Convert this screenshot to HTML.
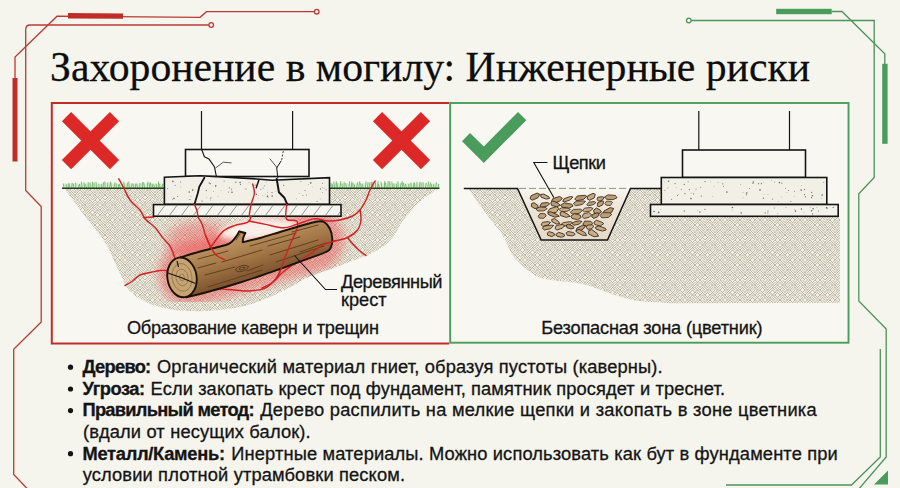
<!DOCTYPE html>
<html lang="ru"><head><meta charset="utf-8"><title>Захоронение в могилу: Инженерные риски</title>
<style>
html,body{margin:0;padding:0;background:#f5f5ed;}
body{width:900px;height:488px;overflow:hidden;}
svg{display:block}
.t{font-family:"Liberation Serif",serif;fill:#0d0d0d;stroke:#0d0d0d;stroke-width:0.25px}
.s{font-family:"Liberation Sans",sans-serif;fill:#141414;stroke:#141414;stroke-width:0.3px}
.b{font-weight:bold}
</style></head><body>
<svg width="900" height="488" viewBox="0 0 900 488">
<defs>
<pattern id="soil" width="40" height="40" patternUnits="userSpaceOnUse">
<rect width="40" height="40" fill="#f1eee3"/>
<path d="M0,0L2.5,2.5M2.5,0L5,2.5M5,2.5L7.5,0M7.5,2.5L10,0M10,0L12.5,2.5M12.5,2.5L15,0M15,0L17.5,2.5M17.5,2.5L20,0M20,0L22.5,2.5M22.5,0L25,2.5M25,2.5L27.5,0M27.5,2.5L30,0M30,0L32.5,2.5M32.5,0L35,2.5M35,2.5L37.5,0M37.5,0L40,2.5M0,2.5L2.5,5M2.5,2.5L5,5M5,5L7.5,2.5M7.5,5L10,2.5M10,2.5L12.5,5M12.5,5L15,2.5M15,5L17.5,2.5M17.5,5L20,2.5M20,2.5L22.5,5M22.5,5L25,2.5M25,5L27.5,2.5M27.5,5L30,2.5M30,2.5L32.5,5M32.5,2.5L35,5M35,5L37.5,2.5M37.5,5L40,2.5M0,7.5L2.5,5M2.5,5L5,7.5M5,5L7.5,7.5M7.5,7.5L10,5M10,7.5L12.5,5M12.5,7.5L15,5M15,7.5L17.5,5M17.5,5L20,7.5M20,7.5L22.5,5M22.5,5L25,7.5M25,5L27.5,7.5M27.5,7.5L30,5M30,7.5L32.5,5M32.5,5L35,7.5M35,5L37.5,7.5M37.5,7.5L40,5M0,10L2.5,7.5M2.5,7.5L5,10M5,7.5L7.5,10M7.5,10L10,7.5M10,10L12.5,7.5M12.5,7.5L15,10M15,7.5L17.5,10M17.5,7.5L20,10M20,10L22.5,7.5M22.5,7.5L25,10M25,7.5L27.5,10M27.5,10L30,7.5M30,10L32.5,7.5M32.5,10L35,7.5M35,7.5L37.5,10M37.5,10L40,7.5M0,10L2.5,12.5M2.5,12.5L5,10M5,12.5L7.5,10M7.5,12.5L10,10M10,12.5L12.5,10M12.5,10L15,12.5M15,12.5L17.5,10M17.5,10L20,12.5M20,10L22.5,12.5M22.5,10L25,12.5M25,12.5L27.5,10M27.5,10L30,12.5M30,10L32.5,12.5M32.5,12.5L35,10M35,12.5L37.5,10M37.5,12.5L40,10M0,12.5L2.5,15M2.5,12.5L5,15M5,15L7.5,12.5M7.5,15L10,12.5M10,12.5L12.5,15M12.5,15L15,12.5M15,15L17.5,12.5M17.5,12.5L20,15M20,15L22.5,12.5M22.5,12.5L25,15M25,15L27.5,12.5M27.5,12.5L30,15M30,15L32.5,12.5M32.5,12.5L35,15M35,15L37.5,12.5M37.5,15L40,12.5M0,17.5L2.5,15M2.5,15L5,17.5M5,15L7.5,17.5M7.5,17.5L10,15M10,17.5L12.5,15M12.5,15L15,17.5M15,15L17.5,17.5M17.5,17.5L20,15M20,17.5L22.5,15M22.5,15L25,17.5M25,15L27.5,17.5M27.5,17.5L30,15M30,17.5L32.5,15M32.5,15L35,17.5M35,15L37.5,17.5M37.5,17.5L40,15M0,20L2.5,17.5M2.5,20L5,17.5M5,17.5L7.5,20M7.5,20L10,17.5M10,17.5L12.5,20M12.5,17.5L15,20M15,17.5L17.5,20M17.5,17.5L20,20M20,20L22.5,17.5M22.5,17.5L25,20M25,17.5L27.5,20M27.5,20L30,17.5M30,20L32.5,17.5M32.5,17.5L35,20M35,20L37.5,17.5M37.5,17.5L40,20M0,20L2.5,22.5M2.5,20L5,22.5M5,22.5L7.5,20M7.5,22.5L10,20M10,20L12.5,22.5M12.5,20L15,22.5M15,22.5L17.5,20M17.5,22.5L20,20M20,20L22.5,22.5M22.5,20L25,22.5M25,22.5L27.5,20M27.5,22.5L30,20M30,20L32.5,22.5M32.5,22.5L35,20M35,22.5L37.5,20M37.5,22.5L40,20M0,22.5L2.5,25M2.5,22.5L5,25M5,25L7.5,22.5M7.5,25L10,22.5M10,25L12.5,22.5M12.5,22.5L15,25M15,25L17.5,22.5M17.5,22.5L20,25M20,22.5L22.5,25M22.5,22.5L25,25M25,25L27.5,22.5M27.5,25L30,22.5M30,22.5L32.5,25M32.5,25L35,22.5M35,25L37.5,22.5M37.5,25L40,22.5M0,27.5L2.5,25M2.5,25L5,27.5M5,25L7.5,27.5M7.5,25L10,27.5M10,27.5L12.5,25M12.5,27.5L15,25M15,25L17.5,27.5M17.5,27.5L20,25M20,25L22.5,27.5M22.5,25L25,27.5M25,25L27.5,27.5M27.5,27.5L30,25M30,27.5L32.5,25M32.5,25L35,27.5M35,27.5L37.5,25M37.5,27.5L40,25M0,30L2.5,27.5M2.5,27.5L5,30M5,27.5L7.5,30M7.5,30L10,27.5M10,30L12.5,27.5M12.5,27.5L15,30M15,27.5L17.5,30M17.5,27.5L20,30M20,27.5L22.5,30M22.5,27.5L25,30M25,27.5L27.5,30M27.5,30L30,27.5M30,30L32.5,27.5M32.5,27.5L35,30M35,27.5L37.5,30M37.5,30L40,27.5M0,30L2.5,32.5M2.5,30L5,32.5M5,32.5L7.5,30M7.5,32.5L10,30M10,30L12.5,32.5M12.5,30L15,32.5M15,32.5L17.5,30M17.5,30L20,32.5M20,30L22.5,32.5M22.5,30L25,32.5M25,32.5L27.5,30M27.5,30L30,32.5M30,30L32.5,32.5M32.5,30L35,32.5M35,32.5L37.5,30M37.5,32.5L40,30M0,32.5L2.5,35M2.5,32.5L5,35M5,32.5L7.5,35M7.5,35L10,32.5M10,35L12.5,32.5M12.5,32.5L15,35M15,35L17.5,32.5M17.5,35L20,32.5M20,32.5L22.5,35M22.5,32.5L25,35M25,35L27.5,32.5M27.5,35L30,32.5M30,32.5L32.5,35M32.5,32.5L35,35M35,35L37.5,32.5M37.5,35L40,32.5M0,37.5L2.5,35M2.5,37.5L5,35M5,35L7.5,37.5M7.5,37.5L10,35M10,35L12.5,37.5M12.5,35L15,37.5M15,35L17.5,37.5M17.5,37.5L20,35M20,37.5L22.5,35M22.5,37.5L25,35M25,35L27.5,37.5M27.5,37.5L30,35M30,35L32.5,37.5M32.5,35L35,37.5M35,35L37.5,37.5M37.5,37.5L40,35M0,40L2.5,37.5M2.5,37.5L5,40M5,37.5L7.5,40M7.5,37.5L10,40M10,37.5L12.5,40M12.5,40L15,37.5M15,40L17.5,37.5M17.5,37.5L20,40M20,40L22.5,37.5M22.5,37.5L25,40M25,40L27.5,37.5M27.5,40L30,37.5M30,40L32.5,37.5M32.5,37.5L35,40M35,37.5L37.5,40M37.5,40L40,37.5" stroke="#b1ac99" stroke-width="0.8" fill="none" stroke-linecap="square"/>
</pattern>
<pattern id="hatch" width="12" height="12" patternUnits="userSpaceOnUse">
<path d="M1,12L10,0M13,12L22,0M-11,12L-2,0" stroke="#6a6a66" stroke-width="0.7" fill="none"/>
</pattern>
<radialGradient id="glow" cx="0.5" cy="0.5" r="0.5">
<stop offset="0" stop-color="#f04848" stop-opacity="0.75"/>
<stop offset="0.55" stop-color="#f05050" stop-opacity="0.5"/>
<stop offset="1" stop-color="#f06060" stop-opacity="0"/>
</radialGradient>
<radialGradient id="wglow" cx="0.5" cy="0.5" r="0.5">
<stop offset="0" stop-color="#fff" stop-opacity="0.9"/>
<stop offset="1" stop-color="#fff" stop-opacity="0"/>
</radialGradient>
<filter id="blur7" x="-40%" y="-80%" width="180%" height="260%"><feGaussianBlur stdDeviation="5"/></filter>
<filter id="blur3" x="-30%" y="-80%" width="160%" height="260%"><feGaussianBlur stdDeviation="3"/></filter>
<linearGradient id="logg" gradientUnits="userSpaceOnUse" x1="250" y1="238" x2="261" y2="276">
<stop offset="0" stop-color="#b88f5c"/><stop offset="0.45" stop-color="#a27646"/><stop offset="1" stop-color="#7d532d"/></linearGradient>
</defs>
<rect width="900" height="488" fill="#f5f5ed"/>

<g fill="none" stroke="#b93a34" stroke-width="1.3">
<path d="M208.8,25H30Q25.7,25 25.7,29.5V190.5L41.2,206.5V322L13.7,349.3V474.5L28.5,490"/>
<circle cx="211.2" cy="25" r="2.3" fill="#f5f5ed"/>
<path d="M15,78V57L57,16.2L200,17.3L206.5,11.7H314.3"/>
<circle cx="316.7" cy="11.7" r="2.3" fill="#f5f5ed"/>
</g>
<rect x="68" y="13.3" width="55" height="5.3" fill="#c02d29" transform="rotate(0.4 95 16)"/>
<rect x="12.5" y="78" width="5" height="83.5" fill="#c02d29"/>
<g fill="none" stroke="#4c925b" stroke-width="1.3">
<path d="M691.2,20.5H874.2V177.5L858.8,193.8V301L886.2,329V457L858,490"/>
<circle cx="688.8" cy="20.5" r="2.3" fill="#f5f5ed"/>
<path d="M831.7,11.5H842L884.8,53.8V64"/>
<path d="M880.3,349V457L851.5,485H726"/>
</g>
<rect x="776.2" y="8.8" width="55.5" height="5.4" fill="#4a9c5c"/>
<rect x="882.2" y="63.8" width="5.4" height="80" fill="#4a9c5c"/>
<path d="M874,484.5L888,470.5V484.5Z" fill="#4a9c5c"/>
<text class="t" transform="translate(0 80.8) scale(1 1.03)" x="50" y="0" font-size="41.7" textLength="760" lengthAdjust="spacing">Захоронение в могилу: Инженерные риски</text>
<rect x="51.8" y="103" width="796.7" height="240" fill="#f8f7f1"/>
<path d="M449.2,103H51.8V343.4H449.2" fill="none" stroke="#c02d29" stroke-width="2"/>
<rect x="450.2" y="103" width="398.3" height="239.7" fill="none" stroke="#4a9c5c" stroke-width="1.9"/>
<path d="M64.0,188.0C67.3,192.5 77.2,205.9 84.0,215.0C90.8,224.1 99.7,234.2 105.0,242.5C110.3,250.8 112.8,258.4 116.0,265.0C119.2,271.6 121.2,277.2 124.0,282.0C126.8,286.8 128.2,290.2 132.5,293.8C136.8,297.4 142.9,301.1 150.0,303.8C157.1,306.5 165.8,308.8 175.0,310.0C184.2,311.2 194.6,311.4 205.0,311.0C215.4,310.6 227.9,309.3 237.5,307.5C247.1,305.7 254.2,303.1 262.5,300.0C270.8,296.9 280.0,292.6 287.5,288.8C295.0,285.1 299.6,281.1 307.5,277.5C315.4,273.9 323.9,271.8 335.0,267.5C346.1,263.2 364.5,256.9 374.0,252.0C383.5,247.1 386.8,243.7 392.0,238.0C397.2,232.3 400.0,224.3 405.0,218.0C410.0,211.7 416.2,205.0 422.0,200.0C427.8,195.0 436.6,190.0 439.5,188.0Z" fill="url(#soil)"/>
<clipPath id="soilclip"><path d="M64.0,188.0C67.3,192.5 77.2,205.9 84.0,215.0C90.8,224.1 99.7,234.2 105.0,242.5C110.3,250.8 112.8,258.4 116.0,265.0C119.2,271.6 121.2,277.2 124.0,282.0C126.8,286.8 128.2,290.2 132.5,293.8C136.8,297.4 142.9,301.1 150.0,303.8C157.1,306.5 165.8,308.8 175.0,310.0C184.2,311.2 194.6,311.4 205.0,311.0C215.4,310.6 227.9,309.3 237.5,307.5C247.1,305.7 254.2,303.1 262.5,300.0C270.8,296.9 280.0,292.6 287.5,288.8C295.0,285.1 299.6,281.1 307.5,277.5C315.4,273.9 323.9,271.8 335.0,267.5C346.1,263.2 364.5,256.9 374.0,252.0C383.5,247.1 386.8,243.7 392.0,238.0C397.2,232.3 400.0,224.3 405.0,218.0C410.0,211.7 416.2,205.0 422.0,200.0C427.8,195.0 436.6,190.0 439.5,188.0Z"/></clipPath>
<g clip-path="url(#soilclip)">
<path d="M190,274L312,240" stroke="#f04a4a" stroke-opacity="0.46" stroke-width="64" stroke-linecap="round" fill="none" filter="url(#blur7)"/>
<ellipse cx="200" cy="240" rx="34" ry="19" fill="#f04a4a" fill-opacity="0.36" filter="url(#blur7)"/>
<ellipse cx="258" cy="229.5" rx="40" ry="10" fill="#fbf3ee" fill-opacity="0.95" filter="url(#blur3)" transform="rotate(-6 256 229)"/>
</g>
<rect x="64" y="183.3" width="100" height="4.5" fill="#cdeac6" opacity="0.7"/><rect x="331" y="183.3" width="108" height="4.5" fill="#cdeac6" opacity="0.7"/>
<path d="M64.0,188L63.2,183.4M66.3,188L66.3,184.2M68.2,188L68.2,184.3M69.9,188L68.8,183.0M71.5,188L72.3,183.0M73.3,188L73.6,183.7M75.8,188L75.6,182.5M78.4,188L79.3,184.3M80.3,188L79.4,184.0M82.2,188L81.4,181.6M84.4,188L84.1,182.3M86.5,188L85.5,184.3M88.3,188L88.2,182.1M90.2,188L90.1,182.5M92.1,188L92.6,181.7M94.0,188L94.0,182.5M96.5,188L96.0,181.9M99.0,188L98.8,184.1M101.4,188L101.4,184.0M103.0,188L103.7,182.2M105.2,188L104.8,181.4M107.5,188L107.7,182.4M109.6,188L110.6,181.6M111.6,188L110.6,182.2M113.9,188L115.1,182.2M116.4,188L116.1,183.5M118.6,188L118.5,184.4M120.4,188L119.3,184.1M122.8,188L122.2,184.0M124.8,188L123.7,181.5M126.8,188L127.7,182.6M129.2,188L128.7,181.5M131.2,188L132.2,183.2M133.8,188L133.0,184.0M135.6,188L135.6,183.7M137.8,188L136.6,183.6M139.8,188L140.0,183.2M142.4,188L142.4,182.1M144.6,188L143.5,182.1M147.1,188L148.0,181.8M149.5,188L149.3,183.1M151.2,188L150.2,182.3M152.9,188L152.1,183.8M154.8,188L153.6,184.3M156.6,188L156.2,184.1M158.2,188L158.5,181.4M159.9,188L159.6,183.6M161.9,188L162.7,184.1M331.0,188L331.0,182.9M332.7,188L332.3,184.1M334.6,188L333.7,181.6M336.2,188L336.2,181.2M337.9,188L336.8,182.6M340.0,188L340.9,181.1M342.3,188L342.0,183.6M344.1,188L344.2,181.8M346.5,188L345.8,183.3M348.9,188L349.7,181.1M351.3,188L351.9,181.6M353.1,188L352.8,182.7M354.8,188L354.2,184.4M356.6,188L357.7,182.1M358.7,188L359.8,181.2M361.2,188L360.6,183.2M363.1,188L362.3,183.8M365.3,188L366.1,181.3M367.4,188L368.1,182.2M369.0,188L370.0,182.2M371.4,188L371.4,181.9M373.2,188L372.8,181.7M375.6,188L375.4,181.1M377.6,188L378.1,181.2M379.4,188L378.5,184.1M381.9,188L381.0,181.7M384.3,188L384.7,181.1M386.3,188L385.4,182.6M387.9,188L388.2,181.1M390.0,188L389.8,181.2M392.5,188L391.8,181.6M394.3,188L393.7,183.5M396.5,188L396.3,183.6M398.2,188L397.9,181.3M400.3,188L401.3,182.5M402.3,188L402.3,181.3M404.4,188L403.3,182.7M406.5,188L405.3,183.9M408.9,188L408.8,183.9M411.2,188L410.8,182.6M413.3,188L414.0,182.6M415.0,188L414.4,182.5M416.9,188L416.9,181.8M419.1,188L420.1,181.8M421.1,188L421.1,182.4M423.2,188L423.1,182.1M425.4,188L426.4,182.8M427.7,188L428.7,181.4M429.5,188L430.6,182.5M432.0,188L431.1,184.0M434.0,188L433.4,184.2M435.7,188L436.4,182.2M438.2,188L438.7,184.0" stroke="#62b05c" stroke-width="0.8" fill="none"/>
<path d="M62,188.3H164.5M329.5,188.3H439.5" stroke="#22401f" stroke-width="1.5" fill="none"/>
<g fill="none" stroke="#d22222" stroke-width="1.45" stroke-linecap="round" stroke-linejoin="round">
<path d="M197.8,216.7C198.5,218.0 200.9,221.2 202.2,224.4C203.5,227.6 204.1,231.7 205.6,235.6C207.1,239.5 209.2,244.5 211.1,247.8C212.9,251.1 214.5,253.6 216.7,255.6C218.9,257.6 223.1,258.9 224.4,259.6"/>
<path d="M251.0,216.7C250.5,217.6 250.6,220.7 247.8,222.2C245.0,223.7 238.5,224.1 234.4,225.6C230.3,227.1 226.6,228.3 223.3,231.1C220.0,233.9 216.6,239.4 214.4,242.2C212.2,245.0 210.7,246.9 210.0,247.8"/>
<path d="M249.0,221.0C251.8,221.6 259.9,223.3 265.6,224.4C271.3,225.5 278.1,227.8 283.3,227.8C288.5,227.8 291.5,225.9 296.7,224.4C301.9,222.9 309.2,219.5 314.4,218.9C319.6,218.3 323.5,220.8 327.8,221.0C332.1,221.2 335.9,220.8 340.0,220.0C344.1,219.2 349.2,217.7 352.5,216.0C355.8,214.3 357.8,212.7 360.0,210.0C362.2,207.3 364.3,203.3 366.0,200.0C367.7,196.7 368.5,193.2 370.0,190.0C371.5,186.8 374.2,182.5 375.0,181.0"/>
<path d="M285.6,216.7C286.0,217.2 286.0,219.3 287.8,220.0C289.6,220.7 295.2,219.5 296.7,221.0C298.2,222.5 297.8,225.7 297.0,228.9C296.2,232.1 294.1,235.6 292.2,240.0C290.3,244.4 287.5,250.8 285.6,255.6C283.7,260.4 282.5,265.2 281.0,268.9C279.5,272.6 279.3,274.6 276.7,277.8C274.1,281.0 270.1,285.6 265.6,287.8C261.2,290.0 255.2,290.6 250.0,291.0C244.8,291.4 240.0,290.4 234.4,290.0C228.8,289.6 221.9,288.7 216.7,288.9C211.5,289.1 205.3,290.6 203.0,291.0"/>
<path d="M118.8,178.8C119.6,180.3 121.9,184.5 123.8,188.0C125.6,191.5 127.3,196.3 130.0,200.0C132.7,203.7 137.5,206.9 140.0,210.0C142.5,213.1 142.5,215.8 145.0,218.8C147.5,221.7 152.1,224.4 155.0,227.5C157.9,230.6 160.0,234.4 162.5,237.5C165.0,240.6 168.1,243.1 170.0,246.0C171.9,248.9 172.8,252.3 173.8,255.0C174.8,257.7 175.6,260.8 176.0,262.0"/>
<path d="M143.8,217.5C145.4,217.4 152.1,217.1 153.8,217.0"/>
<path d="M125.0,285.5C126.2,284.8 130.0,282.8 132.5,281.0C135.0,279.2 137.1,276.4 140.0,275.0C142.9,273.6 146.7,273.2 150.0,272.5C153.3,271.8 157.0,270.8 160.0,270.5C163.0,270.2 166.7,270.5 168.0,270.5"/>
<path d="M360.0,210.0C360.2,211.7 361.4,216.7 361.0,220.0C360.6,223.3 359.8,227.1 357.5,230.0C355.2,232.9 351.2,235.7 347.5,237.5C343.8,239.3 339.2,239.8 335.0,241.0C330.8,242.2 326.2,243.1 322.5,245.0C318.8,246.9 315.8,250.2 312.5,252.5C309.2,254.8 305.8,256.7 302.5,258.8C299.2,260.8 295.8,262.7 292.5,265.0C289.2,267.3 285.8,269.6 282.5,272.5C279.2,275.4 275.9,279.9 272.5,282.5C269.1,285.1 263.8,287.1 262.0,288.0"/>
<path d="M347.5,237.5C348.3,238.5 350.6,241.7 352.5,243.8C354.4,245.8 356.5,248.0 358.8,250.0C361.0,252.0 364.8,254.6 366.0,255.5"/>
</g>
<g stroke="#141414" stroke-width="1.6" fill="#f8f7f1" stroke-linejoin="miter">
<path d="M201.5,111V149.5M292.6,111V149.5" fill="none" stroke-width="1.2"/>
<rect x="185.5" y="149.5" width="123.5" height="27"/>
<path d="M164.4,204.2V177.3L200,175.8L252,178.6L272,180.2L329.5,177.6V204.2Z" fill="#f1efe6"/>
<rect x="153.5" y="204.6" width="187.5" height="11.6" fill="#f6f4ee"/>
</g>
<rect x="154.2" y="205.3" width="186.1" height="10.2" fill="url(#hatch)"/>
<g fill="#6b6b66"><circle cx="189.9" cy="199.5" r="0.6"/><circle cx="202.1" cy="201.0" r="0.6"/><circle cx="308.6" cy="184.4" r="0.4"/><circle cx="192.8" cy="190.1" r="0.8"/><circle cx="231.6" cy="189.8" r="0.5"/><circle cx="218.0" cy="196.2" r="0.35"/><circle cx="221.1" cy="190.6" r="0.35"/><circle cx="228.5" cy="191.9" r="0.5"/><circle cx="249.0" cy="182.4" r="0.4"/><circle cx="322.5" cy="183.2" r="0.5"/><circle cx="210.5" cy="200.0" r="0.4"/><circle cx="210.3" cy="183.7" r="0.6"/><circle cx="302.9" cy="195.2" r="0.5"/><circle cx="232.0" cy="192.3" r="0.8"/><circle cx="258.3" cy="195.7" r="0.35"/><circle cx="211.6" cy="197.8" r="0.4"/><circle cx="235.1" cy="182.5" r="0.35"/><circle cx="268.5" cy="197.8" r="0.35"/><circle cx="264.3" cy="185.7" r="0.5"/><circle cx="305.0" cy="190.5" r="0.5"/><circle cx="326.1" cy="189.8" r="0.5"/><circle cx="266.5" cy="181.9" r="0.4"/><circle cx="317.1" cy="201.4" r="0.5"/><circle cx="175.1" cy="185.2" r="0.5"/><circle cx="267.6" cy="192.2" r="0.4"/><circle cx="213.4" cy="191.5" r="0.4"/><circle cx="210.3" cy="197.9" r="0.5"/><circle cx="172.9" cy="181.4" r="0.8"/><circle cx="255.2" cy="185.0" r="0.6"/><circle cx="206.3" cy="190.4" r="0.6"/><circle cx="272.0" cy="192.5" r="0.6"/><circle cx="322.2" cy="187.5" r="0.4"/><circle cx="324.2" cy="188.2" r="0.4"/><circle cx="231.8" cy="188.3" r="0.35"/><circle cx="300.9" cy="181.3" r="0.5"/><circle cx="235.9" cy="182.2" r="0.6"/><circle cx="306.3" cy="195.1" r="0.5"/><circle cx="262.8" cy="195.5" r="0.35"/><circle cx="240.5" cy="184.3" r="0.6"/><circle cx="167.6" cy="188.6" r="0.5"/><circle cx="322.6" cy="192.5" r="0.4"/><circle cx="172.5" cy="199.5" r="0.4"/><circle cx="224.1" cy="181.0" r="0.6"/><circle cx="180.4" cy="186.9" r="0.4"/><circle cx="206.7" cy="197.3" r="0.35"/><circle cx="209.3" cy="182.9" r="0.6"/><circle cx="260.9" cy="189.3" r="0.5"/><circle cx="215.7" cy="185.9" r="0.8"/><circle cx="320.2" cy="198.9" r="0.4"/><circle cx="272.2" cy="196.0" r="0.8"/><circle cx="229.3" cy="187.8" r="0.6"/><circle cx="190.9" cy="196.2" r="0.4"/><circle cx="174.0" cy="198.5" r="0.8"/><circle cx="267.4" cy="196.4" r="0.8"/><circle cx="189.3" cy="192.0" r="0.8"/><circle cx="258.0" cy="198.1" r="0.35"/><circle cx="299.2" cy="193.3" r="0.4"/><circle cx="180.6" cy="181.9" r="0.5"/><circle cx="320.5" cy="188.9" r="0.6"/><circle cx="256.4" cy="194.2" r="0.8"/><circle cx="275.9" cy="191.3" r="0.35"/><circle cx="240.1" cy="182.5" r="0.8"/><circle cx="310.7" cy="182.9" r="0.8"/><circle cx="177.6" cy="196.5" r="0.5"/><circle cx="296.5" cy="198.8" r="0.4"/><circle cx="283.7" cy="185.3" r="0.6"/><circle cx="246.0" cy="189.0" r="0.6"/><circle cx="312.7" cy="187.0" r="0.35"/><circle cx="265.7" cy="194.5" r="0.35"/><circle cx="263.0" cy="188.0" r="0.5"/></g>
<path d="M201.6,149.3L204.4,156.7L208.9,158.9L214.4,166.7L216.2,175.6" fill="none" stroke="#141414" stroke-width="1.1" stroke-linejoin="round" stroke-linecap="round"/>
<path d="M215.8,167.8L223.3,162.2L231.1,162.9" fill="none" stroke="#141414" stroke-width="0.7" stroke-linejoin="round" stroke-linecap="round"/>
<path d="M281.1,161.1L276.7,167.8L277.8,177.8" fill="none" stroke="#141414" stroke-width="1.0" stroke-linejoin="round" stroke-linecap="round"/>
<path d="M270.0,158.9L277.1,167.8" fill="none" stroke="#141414" stroke-width="0.7" stroke-linejoin="round" stroke-linecap="round"/>
<path d="M204.4,177.8L199.3,186.7L197.8,193.3L194.4,204.4" fill="none" stroke="#141414" stroke-width="1.8" stroke-linejoin="round" stroke-linecap="round"/>
<path d="M258.9,180.0L256.2,187.8" fill="none" stroke="#141414" stroke-width="1.5" stroke-linejoin="round" stroke-linecap="round"/>
<path d="M276.7,178.9L278.9,192.2L284.4,197.8L287.3,204.4" fill="none" stroke="#141414" stroke-width="2.0" stroke-linejoin="round" stroke-linecap="round"/>
<path d="M283.3,151.1L281.6,160.4" fill="none" stroke="#141414" stroke-width="0.8" stroke-dasharray="2 1.5"/>
<g fill="none" stroke="#d22222" stroke-width="1.4" stroke-linecap="round" stroke-linejoin="round">
<path d="M252.7,184.0C253.0,185.6 254.7,189.9 254.4,193.3C254.2,196.7 252.0,200.7 251.1,204.4C250.3,208.1 249.4,213.5 249.3,215.6C249.3,217.6 250.7,216.5 251.0,216.7"/>
<path d="M194.4,204.4C194.9,205.6 196.6,209.1 197.1,211.1C197.7,213.2 197.7,215.8 197.8,216.7"/>
<path d="M286.7,204.4C286.6,205.6 286.2,209.1 286.0,211.1C285.8,213.2 285.7,215.8 285.6,216.7"/>
</g>
<g stroke="#1c120a" stroke-width="1.9" stroke-linejoin="round">
<path d="M180.0,257.6C183.3,256.6 192.3,253.6 200.0,251.5C207.7,249.4 220.7,246.7 226.0,245.0C231.3,243.3 230.2,243.0 232.0,241.5C233.8,240.0 235.3,237.7 236.5,236.0C237.7,234.3 238.8,232.1 239.3,231.3L245.4,233.0C245.0,233.8 243.6,236.4 243.2,238.0C242.8,239.6 242.9,241.6 242.8,242.3L242.8,242.3C245.7,241.6 253.8,239.7 260.0,238.0C266.2,236.3 273.3,234.0 280.0,232.0C286.7,230.0 294.0,227.7 300.0,226.0C306.0,224.3 312.0,222.4 316.0,221.7C320.0,221.0 321.7,220.8 324.0,222.0C326.3,223.2 328.6,226.2 330.0,229.0C331.4,231.8 332.1,236.0 332.3,239.0C332.5,242.0 332.1,244.8 331.0,247.0C329.9,249.2 331.2,249.6 326.0,252.0C320.8,254.4 307.7,258.7 300.0,261.5C292.3,264.3 286.7,266.6 280.0,269.0C273.3,271.4 266.7,273.8 260.0,276.0C253.3,278.2 246.7,280.4 240.0,282.5C233.3,284.6 226.7,286.6 220.0,288.5C213.3,290.4 205.7,292.5 200.0,294.0C194.3,295.5 188.3,296.8 186.0,297.3Z" fill="url(#logg)"/>
<ellipse cx="182" cy="277.4" rx="14.6" ry="20" transform="rotate(-9 182 277.4)" fill="#c6a471"/>
</g>
<g fill="none" stroke="#5a3a1d" stroke-width="0.9" stroke-linecap="round">
<path d="M198,259L228,251M250,246L296,233M205,275L235,267M247,271L263,265M270,255L318,240M208,287L262,270M276,262L324,246M292,232L318,225M198,268L216,263M222,262L262,250M300,252L326,243M268,246L300,237M236,240L240,234"/>
<ellipse cx="242" cy="268.5" rx="6.5" ry="2.8" transform="rotate(-16 242 268.5)"/>
<ellipse cx="242" cy="268.5" rx="3" ry="1.2" transform="rotate(-16 242 268.5)"/>
</g>
<g fill="none" stroke="#8a6a42" stroke-width="0.7">
<ellipse cx="182" cy="277.4" rx="10" ry="14" transform="rotate(-9 182 277.4)"/>
<ellipse cx="182" cy="277.4" rx="6" ry="8.4" transform="rotate(-9 182 277.4)"/>
<ellipse cx="182" cy="277.4" rx="2.4" ry="3.4" transform="rotate(-9 182 277.4)"/>
</g>
<path d="M167.8,273L181,277.5L195.5,283.5M177,261L178.5,267" fill="none" stroke="#1c120a" stroke-width="1.1"/>
<path d="M240,232.2L244.6,233.4" fill="none" stroke="#1c120a" stroke-width="1"/>
<g fill="none" stroke="#d22222" stroke-width="1.4" stroke-linecap="round">
<path d="M205.6,235.6C206.5,237.6 209.2,244.5 211.1,247.8C212.9,251.1 214.5,253.6 216.7,255.6C218.9,257.6 223.1,258.9 224.4,259.6"/>
<path d="M297.0,228.9C296.2,230.8 294.1,235.6 292.2,240.0C290.3,244.4 287.5,250.8 285.6,255.6C283.7,260.4 282.5,265.2 281.0,268.9C279.5,272.6 277.4,276.3 276.7,277.8"/>
<path d="M335.0,241.0C332.9,241.7 326.2,243.1 322.5,245.0C318.8,246.9 315.8,250.2 312.5,252.5C309.2,254.8 304.2,257.7 302.5,258.8"/>
</g>
<path d="M294.5,255.5L325.5,289.5H337" fill="none" stroke="#141414" stroke-width="1.1"/>
<text class="s" x="341" y="288.2" font-size="18.2" textLength="101.5" lengthAdjust="spacing">Деревянный</text>
<text class="s" x="341" y="306.3" font-size="18.2">крест</text>
<g transform="translate(90.5 140.6) rotate(45)" fill="#dc2826"><rect x="-33.9" y="-6.5" width="67.9" height="13"/><rect y="-33.9" x="-6.5" height="67.9" width="13"/></g>
<g transform="translate(401.5 140.6) rotate(45)" fill="#dc2826"><rect x="-33.9" y="-6.5" width="67.9" height="13"/><rect y="-33.9" x="-6.5" height="67.9" width="13"/></g>
<text class="s" x="127" y="333.7" font-size="18.2" textLength="252" lengthAdjust="spacing">Образование каверн и трещин</text>
<path d="M468.0,188.0C470.8,192.1 479.2,204.7 485.0,212.5C490.8,220.3 497.9,227.9 502.5,235.0C507.1,242.1 508.3,249.2 512.5,255.0C516.7,260.8 522.1,266.0 527.5,270.0C532.9,274.0 535.8,276.7 545.0,279.0C554.2,281.3 572.1,281.8 582.5,284.0C592.9,286.2 598.8,289.8 607.5,292.5C616.2,295.2 624.6,298.7 635.0,300.5C645.4,302.3 664.2,302.8 670.0,303.2L840,302.8V216.3H661V188Z" fill="url(#soil)"/>
<linearGradient id="pitg" x1="0" y1="0" x2="0" y2="1"><stop offset="0" stop-color="#f8f7f1"/><stop offset="0.35" stop-color="#eee6d8"/><stop offset="1" stop-color="#e6dac8"/></linearGradient>
<path d="M517.5,188L541.2,240H607.5L630.5,188Z" fill="url(#pitg)"/>
<g stroke="#2a2118" stroke-width="0.75" stroke-linejoin="round"><path d="M-5.4,-0.1L-3.2,-2.4L3.3,-2.4L5.4,-0.1L2.2,2.2L-3.8,2.3Z" transform="translate(535.0 196.6) rotate(-23)" fill="#b8976b"/><path d="M-4.9,-0.3L-2.3,-1.9L3.5,-1.8L4.9,-0.5L1.9,1.6L-3.4,2.0Z" transform="translate(544.9 196.8) rotate(26)" fill="#c6a77e"/><path d="M-5.8,0.1L-3.4,-2.4L3.6,-2.3L5.8,0.3L2.3,2.2L-4.1,2.5Z" transform="translate(556.8 199.8) rotate(-18)" fill="#b8976b"/><path d="M-5.5,0.1L-3.2,-1.8L3.4,-1.6L5.5,-0.3L2.2,1.5L-3.8,1.4Z" transform="translate(567.8 199.2) rotate(-21)" fill="#c6a77e"/><path d="M-6.2,0.4L-3.1,-2.4L4.3,-1.8L6.2,-0.6L2.5,2.0L-4.3,2.3Z" transform="translate(580.8 197.8) rotate(-9)" fill="#b8976b"/><path d="M-4.7,-0.3L-2.4,-2.6L3.2,-2.0L4.7,-0.2L1.9,2.6L-3.3,2.2Z" transform="translate(591.3 196.7) rotate(-30)" fill="#c6a77e"/><path d="M-3.8,0.2L-2.6,-2.0L2.0,-1.5L3.8,-0.6L1.5,1.8L-2.7,2.1Z" transform="translate(600.7 198.6) rotate(-10)" fill="#c1a178"/><path d="M-6.2,-0.1L-3.0,-2.2L4.4,-2.0L6.2,0.2L2.5,2.3L-4.4,2.3Z" transform="translate(610.9 197.2) rotate(3)" fill="#bd9e74"/><path d="M-3.9,-0.4L-2.2,-2.3L2.5,-1.9L3.9,0.0L1.5,2.4L-2.7,2.3Z" transform="translate(534.8 205.8) rotate(31)" fill="#bd9e74"/><path d="M-5.0,0.5L-2.9,-2.2L3.1,-1.9L5.0,-0.2L2.0,1.6L-3.5,2.0Z" transform="translate(544.8 204.8) rotate(-9)" fill="#b8976b"/><path d="M-4.9,-0.4L-3.4,-2.5L2.5,-1.8L4.9,-0.2L1.9,2.0L-3.4,2.1Z" transform="translate(555.4 204.3) rotate(15)" fill="#bd9e74"/><path d="M-6.2,0.5L-2.7,-2.3L4.8,-2.0L6.2,-0.2L2.5,2.4L-4.3,2.3Z" transform="translate(566.8 205.5) rotate(8)" fill="#b8976b"/><path d="M-6.2,-0.2L-3.1,-2.3L4.3,-1.7L6.2,-0.9L2.5,1.7L-4.3,2.2Z" transform="translate(579.5 203.1) rotate(-7)" fill="#bd9e74"/><path d="M-4.7,0.4L-2.1,-1.8L3.6,-1.6L4.7,-0.2L1.9,1.3L-3.3,1.7Z" transform="translate(591.3 203.6) rotate(-9)" fill="#c1a178"/><path d="M-3.9,0.5L-2.0,-2.1L2.7,-1.7L3.9,-0.7L1.6,2.0L-2.8,2.0Z" transform="translate(600.5 203.7) rotate(-27)" fill="#c1a178"/><path d="M-3.8,0.0L-2.0,-2.2L2.6,-1.7L3.8,-0.5L1.5,2.4L-2.7,1.8Z" transform="translate(608.7 203.2) rotate(-4)" fill="#ccae86"/><path d="M-5.5,-0.0L-2.4,-2.0L4.1,-1.8L5.5,-0.4L2.2,1.8L-3.8,2.0Z" transform="translate(541.6 209.1) rotate(1)" fill="#c1a178"/><path d="M-5.9,0.1L-2.9,-2.5L4.2,-2.5L5.9,-0.1L2.4,2.8L-4.1,2.4Z" transform="translate(553.3 210.3) rotate(-17)" fill="#ccae86"/><path d="M-5.6,-0.2L-3.4,-2.0L3.3,-1.6L5.6,-0.2L2.2,1.6L-3.9,1.6Z" transform="translate(564.8 209.8) rotate(-0)" fill="#ccae86"/><path d="M-6.1,-0.0L-2.7,-2.3L4.6,-1.7L6.1,-0.1L2.4,2.4L-4.3,2.3Z" transform="translate(576.4 211.4) rotate(-7)" fill="#c1a178"/><path d="M-5.3,0.1L-3.1,-2.0L3.2,-2.0L5.3,-0.7L2.1,1.5L-3.7,1.7Z" transform="translate(587.9 209.8) rotate(-6)" fill="#ccae86"/><path d="M-3.9,0.5L-2.3,-2.5L2.3,-2.1L3.9,-0.7L1.6,2.7L-2.7,2.7Z" transform="translate(597.5 211.2) rotate(24)" fill="#bd9e74"/><path d="M-5.9,-0.2L-3.8,-2.3L3.3,-2.3L5.9,0.2L2.4,2.5L-4.1,2.3Z" transform="translate(608.4 211.2) rotate(-29)" fill="#b8976b"/><path d="M-4.0,0.4L-2.2,-2.4L2.6,-2.4L4.0,-0.3L1.6,2.3L-2.8,2.2Z" transform="translate(542.2 216.0) rotate(2)" fill="#c1a178"/><path d="M-6.0,0.5L-3.9,-1.7L3.3,-1.5L6.0,-0.8L2.4,1.8L-4.2,1.8Z" transform="translate(553.4 214.7) rotate(22)" fill="#b8976b"/><path d="M-5.3,-0.3L-3.6,-2.5L2.7,-1.8L5.3,-0.8L2.1,1.7L-3.7,2.1Z" transform="translate(564.8 215.0) rotate(22)" fill="#c6a77e"/><path d="M-5.2,0.8L-2.4,-2.6L3.8,-2.5L5.2,-0.2L2.1,2.7L-3.6,2.6Z" transform="translate(576.0 216.7) rotate(14)" fill="#c1a178"/><path d="M-4.8,0.3L-3.2,-2.2L2.5,-2.4L4.8,0.3L1.9,2.3L-3.4,2.4Z" transform="translate(586.9 215.4) rotate(-12)" fill="#ccae86"/><path d="M-4.1,-0.3L-2.6,-2.2L2.3,-1.9L4.1,-0.5L1.6,1.9L-2.8,2.0Z" transform="translate(595.6 215.5) rotate(-23)" fill="#b8976b"/><path d="M-5.9,0.2L-3.1,-2.7L4.0,-2.3L5.9,-0.6L2.4,2.3L-4.1,2.6Z" transform="translate(605.9 215.2) rotate(-1)" fill="#bd9e74"/><path d="M-4.9,0.3L-3.2,-2.0L2.6,-1.8L4.9,-0.5L1.9,1.5L-3.4,2.0Z" transform="translate(545.9 223.8) rotate(-10)" fill="#ccae86"/><path d="M-4.5,0.2L-2.5,-2.1L2.9,-1.6L4.5,-0.4L1.8,1.6L-3.2,1.8Z" transform="translate(555.6 221.7) rotate(32)" fill="#ccae86"/><path d="M-5.9,-0.3L-3.1,-1.8L4.0,-1.5L5.9,-0.3L2.4,1.9L-4.1,1.8Z" transform="translate(566.7 223.8) rotate(-10)" fill="#ccae86"/><path d="M-5.0,-0.3L-3.2,-1.8L2.8,-1.7L5.0,-0.7L2.0,1.4L-3.5,1.5Z" transform="translate(577.2 223.1) rotate(-12)" fill="#bd9e74"/><path d="M-4.9,0.2L-2.9,-2.7L3.0,-2.2L4.9,-0.0L2.0,2.7L-3.5,2.3Z" transform="translate(587.8 223.6) rotate(-3)" fill="#b8976b"/><path d="M-5.0,0.1L-3.0,-2.4L3.0,-1.8L5.0,-0.8L2.0,2.3L-3.5,2.1Z" transform="translate(598.7 223.3) rotate(14)" fill="#ccae86"/><path d="M-5.8,-0.3L-3.4,-2.1L3.6,-1.5L5.8,-0.8L2.3,1.7L-4.1,1.8Z" transform="translate(548.1 227.4) rotate(-12)" fill="#c6a77e"/><path d="M-5.1,0.6L-3.3,-2.2L2.8,-1.9L5.1,-0.3L2.1,1.8L-3.6,2.4Z" transform="translate(559.9 226.9) rotate(-12)" fill="#ccae86"/><path d="M-4.1,-0.4L-2.6,-1.9L2.3,-1.8L4.1,-0.4L1.6,1.7L-2.8,1.8Z" transform="translate(570.1 226.9) rotate(22)" fill="#b8976b"/><path d="M-5.4,0.1L-3.2,-2.1L3.2,-1.6L5.4,0.2L2.1,1.9L-3.8,2.1Z" transform="translate(580.8 228.2) rotate(-31)" fill="#b8976b"/><path d="M-3.8,-0.3L-2.3,-2.2L2.2,-2.1L3.8,-0.6L1.5,1.8L-2.6,2.0Z" transform="translate(590.1 227.1) rotate(-5)" fill="#ccae86"/><path d="M-5.6,0.4L-2.6,-2.2L4.2,-1.9L5.6,-0.6L2.2,1.6L-3.9,1.9Z" transform="translate(600.7 228.8) rotate(18)" fill="#c6a77e"/><path d="M-3.9,0.3L-2.6,-1.9L2.1,-2.0L3.9,-0.5L1.6,2.0L-2.7,1.9Z" transform="translate(550.9 234.2) rotate(18)" fill="#c6a77e"/><path d="M-4.5,0.5L-2.1,-2.3L3.3,-1.8L4.5,0.0L1.8,2.0L-3.1,1.9Z" transform="translate(560.2 235.0) rotate(13)" fill="#c6a77e"/><path d="M-4.6,-0.4L-2.8,-2.0L2.8,-1.6L4.6,0.1L1.9,1.9L-3.2,1.9Z" transform="translate(570.6 233.8) rotate(7)" fill="#c6a77e"/><path d="M-5.9,0.7L-3.6,-2.0L3.5,-1.9L5.9,-0.1L2.4,1.6L-4.2,1.7Z" transform="translate(581.3 232.8) rotate(28)" fill="#c6a77e"/><path d="M-5.6,-0.3L-3.5,-2.7L3.2,-2.1L5.6,-0.5L2.2,2.2L-3.9,2.7Z" transform="translate(593.4 233.7) rotate(31)" fill="#ccae86"/></g>
<path d="M463.8,188.4H517.5L541.2,240H607.5L630.5,188.4H661" fill="none" stroke="#141414" stroke-width="1.5" stroke-linejoin="miter"/>
<path d="M519,188.4H629" fill="none" stroke="#8b8377" stroke-width="0.9" stroke-dasharray="7 3"/>
<g stroke="#141414" stroke-width="1.6" fill="#f8f7f1">
<path d="M698.8,111V150M789.5,111V150" fill="none" stroke-width="1.2"/>
<rect x="682.5" y="150" width="123" height="27.5"/>
<rect x="661.3" y="177.5" width="165.5" height="27" fill="#f1efe6"/>
<rect x="650.5" y="204.5" width="187.7" height="11.8" fill="#f3f1e9"/>
</g>
<g fill="#6b6b66"><circle cx="740.8" cy="184.5" r="0.4"/><circle cx="763.4" cy="198.2" r="0.6"/><circle cx="743.0" cy="197.8" r="0.4"/><circle cx="746.3" cy="194.8" r="0.6"/><circle cx="749.4" cy="188.6" r="0.5"/><circle cx="821.6" cy="198.6" r="0.4"/><circle cx="758.5" cy="183.7" r="0.6"/><circle cx="778.8" cy="201.7" r="0.35"/><circle cx="696.3" cy="189.0" r="0.4"/><circle cx="705.0" cy="181.6" r="0.6"/><circle cx="822.1" cy="195.1" r="0.8"/><circle cx="678.5" cy="194.4" r="0.4"/><circle cx="691.0" cy="198.6" r="0.8"/><circle cx="768.0" cy="194.3" r="0.4"/><circle cx="677.5" cy="195.4" r="0.5"/><circle cx="764.2" cy="194.6" r="0.35"/><circle cx="701.3" cy="196.1" r="0.6"/><circle cx="782.6" cy="183.1" r="0.35"/><circle cx="801.2" cy="190.1" r="0.8"/><circle cx="753.0" cy="183.3" r="0.6"/><circle cx="790.9" cy="201.4" r="0.5"/><circle cx="746.7" cy="193.1" r="0.8"/><circle cx="801.5" cy="185.7" r="0.35"/><circle cx="726.9" cy="192.1" r="0.8"/><circle cx="804.5" cy="194.7" r="0.6"/><circle cx="760.0" cy="189.9" r="0.8"/><circle cx="684.2" cy="184.4" r="0.6"/><circle cx="786.9" cy="192.3" r="0.35"/><circle cx="771.6" cy="180.4" r="0.35"/><circle cx="781.5" cy="183.1" r="0.5"/><circle cx="753.3" cy="182.0" r="0.8"/><circle cx="794.5" cy="191.2" r="0.5"/><circle cx="675.1" cy="183.6" r="0.6"/><circle cx="668.1" cy="187.4" r="0.35"/><circle cx="688.1" cy="181.8" r="0.5"/><circle cx="785.6" cy="188.2" r="0.5"/><circle cx="779.4" cy="182.6" r="0.8"/><circle cx="691.1" cy="193.1" r="0.35"/><circle cx="804.6" cy="189.6" r="0.6"/><circle cx="723.5" cy="186.2" r="0.5"/><circle cx="823.8" cy="182.3" r="0.5"/><circle cx="700.8" cy="187.2" r="0.5"/><circle cx="788.4" cy="190.5" r="0.5"/><circle cx="664.6" cy="181.9" r="0.35"/><circle cx="689.3" cy="189.6" r="0.6"/><circle cx="772.7" cy="199.0" r="0.6"/><circle cx="805.6" cy="196.8" r="0.6"/><circle cx="774.7" cy="182.0" r="0.4"/><circle cx="761.3" cy="183.7" r="0.6"/><circle cx="714.0" cy="186.6" r="0.4"/><circle cx="671.5" cy="199.2" r="0.5"/><circle cx="743.0" cy="192.3" r="0.4"/><circle cx="811.5" cy="197.7" r="0.6"/><circle cx="684.9" cy="193.7" r="0.6"/><circle cx="664.9" cy="190.2" r="0.5"/><circle cx="676.1" cy="187.4" r="0.35"/><circle cx="681.3" cy="189.3" r="0.5"/><circle cx="695.2" cy="189.1" r="0.4"/><circle cx="812.5" cy="195.8" r="0.8"/><circle cx="794.2" cy="196.2" r="0.4"/><circle cx="710.4" cy="181.1" r="0.4"/><circle cx="667.5" cy="188.1" r="0.35"/><circle cx="722.8" cy="183.8" r="0.6"/><circle cx="763.6" cy="182.0" r="0.35"/><circle cx="811.6" cy="192.3" r="0.6"/><circle cx="693.6" cy="193.8" r="0.6"/><circle cx="718.0" cy="182.2" r="0.4"/><circle cx="712.8" cy="196.6" r="0.35"/><circle cx="668.5" cy="181.3" r="0.8"/><circle cx="781.5" cy="196.9" r="0.35"/><circle cx="827.1" cy="208.2" r="0.6"/><circle cx="767.8" cy="213.0" r="0.5"/><circle cx="810.3" cy="207.3" r="0.35"/><circle cx="833.2" cy="207.4" r="0.6"/><circle cx="795.4" cy="211.1" r="0.8"/><circle cx="741.2" cy="213.0" r="0.8"/><circle cx="697.5" cy="210.3" r="0.4"/><circle cx="768.0" cy="211.1" r="0.6"/><circle cx="794.4" cy="209.3" r="0.4"/><circle cx="801.4" cy="209.0" r="0.8"/><circle cx="786.0" cy="207.5" r="0.4"/><circle cx="804.0" cy="212.8" r="0.35"/><circle cx="684.2" cy="210.9" r="0.6"/><circle cx="812.6" cy="213.9" r="0.6"/><circle cx="774.3" cy="208.1" r="0.5"/><circle cx="818.6" cy="210.9" r="0.5"/><circle cx="777.8" cy="213.5" r="0.4"/><circle cx="656.9" cy="213.5" r="0.35"/><circle cx="813.1" cy="208.7" r="0.8"/><circle cx="699.9" cy="212.0" r="0.8"/><circle cx="705.0" cy="209.4" r="0.6"/><circle cx="732.4" cy="207.5" r="0.8"/><circle cx="654.0" cy="211.5" r="0.8"/><circle cx="811.6" cy="210.8" r="0.8"/><circle cx="658.7" cy="212.4" r="0.8"/><circle cx="816.9" cy="207.4" r="0.35"/><circle cx="732.1" cy="210.1" r="0.35"/><circle cx="765.2" cy="212.9" r="0.6"/><circle cx="660.9" cy="209.4" r="0.4"/><circle cx="826.5" cy="207.7" r="0.8"/></g>
<path d="M462,141.2L470,133L483.8,146.6L518,112L526.3,120.2L483.8,163Z" fill="#4a9c5c"/>
<path d="M547.5,162.5H533.8L553.8,197.5" fill="none" stroke="#141414" stroke-width="1.1"/>
<text class="s" x="552.5" y="168.7" font-size="18.2" textLength="53.5" lengthAdjust="spacing">Щепки</text>
<text class="s" x="541.2" y="333.7" font-size="18.2" textLength="221.3" lengthAdjust="spacing">Безопасная зона (цветник)</text>
<circle cx="70.5" cy="367.2" r="2.6" fill="#141414"/>
<text class="s b" x="82.5" y="373.0" font-size="18.3" textLength="68.7" lengthAdjust="spacing">Дерево:</text>
<text class="s" x="157" y="373.0" font-size="18.3" textLength="505.7" lengthAdjust="spacing">Органический материал гниет, образуя пустоты (каверны).</text>
<circle cx="70.5" cy="389.0" r="2.6" fill="#141414"/>
<text class="s b" x="82.5" y="394.8" font-size="18.3" textLength="62.5" lengthAdjust="spacing">Угроза:</text>
<text class="s" x="150.6" y="394.8" font-size="18.3" textLength="574.4" lengthAdjust="spacing">Если закопать крест под фундамент, памятник просядет и треснет.</text>
<circle cx="70.5" cy="410.6" r="2.6" fill="#141414"/>
<text class="s b" x="82.5" y="416.4" font-size="18.3" textLength="172.1" lengthAdjust="spacing">Правильный метод:</text>
<text class="s" x="260.2" y="416.4" font-size="18.3" textLength="556.5" lengthAdjust="spacing">Дерево распилить на мелкие щепки и закопать в зоне цветника</text>
<text class="s" x="83" y="437.9" font-size="18.3" textLength="227.7" lengthAdjust="spacing">(вдали от несущих балок).</text>
<circle cx="70.5" cy="453.7" r="2.6" fill="#141414"/>
<text class="s b" x="82.5" y="459.5" font-size="18.3" textLength="142.5" lengthAdjust="spacing">Металл/Камень:</text>
<text class="s" x="231.3" y="459.5" font-size="18.3" textLength="606.4" lengthAdjust="spacing">Инертные материалы. Можно использовать как бут в фундаменте при</text>
<text class="s" x="82.7" y="481.3" font-size="18.3" textLength="322.3" lengthAdjust="spacing">условии плотной утрамбовки песком.</text>
</svg>
</body></html>
